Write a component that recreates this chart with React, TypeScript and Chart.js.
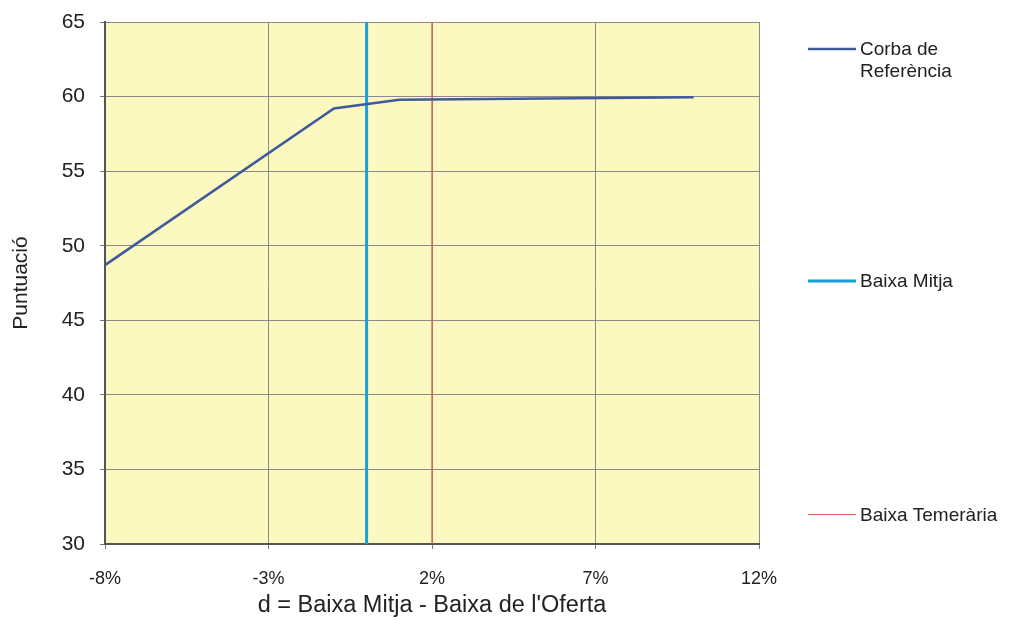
import React, { useEffect, useRef } from "react";
import { Chart, registerables } from "chart.js";

Chart.register(...registerables);

const curveX = [-8, -1, 1, 10];
const curveY = [48.7, 59.2, 59.78, 59.95];
const baixaMitjaX = 0;
const baixaTemerariaX = 2;
const yRange = [30, 65];
const xTicks = [-8, -3, 2, 7, 12];
const seriesNames = ["Corba de Referència", "Baixa Mitja", "Baixa Temerària"];
const seriesColors = ["#3f5a9c", "#1a9fd6", "#e05a5a"];

const FONT = "'Liberation Sans', Arial, sans-serif";

export default function App() {
  const ref = useRef<HTMLCanvasElement>(null);
  useEffect(() => {
    if (!ref.current) return;
    const bgPlugin = {
      id: "bg",
      beforeDraw(chart: any) {
        const { ctx, chartArea } = chart;
        ctx.save();
        ctx.fillStyle = "#fbf9bf";
        ctx.fillRect(chartArea.left, chartArea.top, chartArea.right - chartArea.left, chartArea.bottom - chartArea.top);
        ctx.restore();
      },
    };
    const legendPlugin = {
      id: "sideLegend",
      afterDraw(chart: any) {
        const { ctx } = chart;
        const items = [
          { lines: ["Corba de", "Referència"], y: 49, w: 2.5 },
          { lines: ["Baixa Mitja"], y: 281, w: 3 },
          { lines: ["Baixa Temerària"], y: 514.5, w: 1 },
        ];
        ctx.save();
        ctx.font = "19px " + FONT;
        ctx.textBaseline = "middle";
        ctx.fillStyle = "#222";
        items.forEach((it, i) => {
          ctx.strokeStyle = seriesColors[i];
          ctx.lineWidth = it.w;
          ctx.beginPath();
          ctx.moveTo(808, it.y);
          ctx.lineTo(856, it.y);
          ctx.stroke();
          it.lines.forEach((t, j) => ctx.fillText(t, 860, Math.round(it.y) + 1 + j * 22));
        });
        ctx.restore();
      },
    };
    const chart = new Chart(ref.current, {
      type: "scatter",
      data: {
        datasets: [
          {
            label: seriesNames[0],
            data: curveX.map((x, i) => ({ x, y: curveY[i] })),
            showLine: true,
            borderColor: seriesColors[0],
            borderWidth: 2.5,
            pointRadius: 0,
          },
          {
            label: seriesNames[1],
            data: [
              { x: baixaMitjaX, y: yRange[0] },
              { x: baixaMitjaX, y: yRange[1] },
            ],
            showLine: true,
            borderColor: seriesColors[1],
            borderWidth: 3,
            pointRadius: 0,
          },
          {
            label: seriesNames[2],
            data: [
              { x: baixaTemerariaX, y: yRange[0] },
              { x: baixaTemerariaX, y: yRange[1] },
            ],
            showLine: true,
            borderColor: seriesColors[2],
            borderWidth: 1.3,
            pointRadius: 0,
          },
        ],
      },
      options: {
        animation: false,
        responsive: false,
        layout: { padding: { top: 22, right: 250, left: 0, bottom: 0 } },
        plugins: { legend: { display: false }, tooltip: { enabled: false } },
        scales: {
          x: {
            type: "linear",
            min: xTicks[0],
            max: xTicks[xTicks.length - 1],
            afterBuildTicks(scale: any) {
              scale.ticks = xTicks.map((v) => ({ value: v }));
            },
            afterFit(scale: any) {
              scale.height = 76;
              scale.paddingLeft = 0;
              scale.paddingRight = 0;
            },
            ticks: {
              callback: (v: any) => v + "%",
              font: { family: FONT, size: 18 },
              color: "#222",
              padding: 19,
              maxRotation: 0,
            },
            grid: { color: "#8a8a8a", lineWidth: 1, tickLength: 5, tickColor: "#777" },
            border: { color: "#555", width: 2 },
            title: {
              display: true,
              text: "d = Baixa Mitja - Baixa de l'Oferta",
              font: { family: FONT, size: 23.5 },
              color: "#222",
              padding: { top: 0, bottom: 0 },
            },
          },
          y: {
            min: yRange[0],
            max: yRange[1],
            ticks: {
              stepSize: 5,
              font: { family: FONT, size: 21 },
              color: "#222",
              padding: 15,
            },
            afterFit(scale: any) {
              scale.width = 105;
              scale.paddingTop = 0;
              scale.paddingBottom = 0;
            },
            grid: { color: "#8a8a8a", lineWidth: 1, tickLength: 5, tickColor: "#777" },
            border: { color: "#555", width: 2 },
            title: {
              display: true,
              text: "Puntuació",
              font: { family: FONT, size: 21 },
              color: "#222",
              padding: { top: 9, bottom: 4 },
            },
          },
        },
      },
      plugins: [bgPlugin, legendPlugin],
    });
    return () => chart.destroy();
  }, []);
  return (
    <div style={{ position: "absolute", left: 0, top: 0, width: 1009, height: 620, background: "#fff" }}>
      <canvas ref={ref} width={1009} height={620} style={{ width: 1009, height: 620 }} />
    </div>
  );
}
